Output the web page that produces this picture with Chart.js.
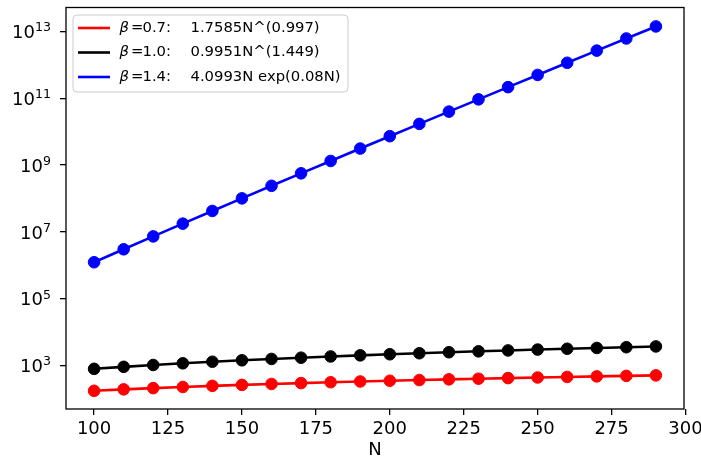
<!DOCTYPE html>
<html>
<head>
<meta charset="utf-8">
<script src="https://cdn.jsdelivr.net/npm/chart.js@4.4.0/dist/chart.umd.min.js"></script>
<style>
body { margin: 0; background: #fff; }
canvas { display: block; }
</style>
</head>
<body>
<canvas id="Chart" width="701" height="461"></canvas>
<script>
// values
const N = [100, 110, 120, 130, 140, 150, 160, 170, 180, 190, 200, 210, 220, 230, 240, 250, 260, 270, 280, 290];
const beta07 = [173, 191, 208, 225, 243, 260, 277, 294, 312, 329, 346, 363, 381, 398, 415, 432, 450, 467, 484, 501];
const beta10 = [787, 903, 1025, 1151, 1281, 1416, 1555, 1697, 1844, 1994, 2148, 2305, 2466, 2630, 2798, 2968, 3142, 3318, 3498, 3681];
const beta14 = [1.222e6, 2.99e6, 7.26e6, 1.75e7, 4.20e7, 1.00e8, 2.38e8, 5.62e8, 1.32e9, 3.11e9, 7.29e9, 1.70e10, 3.97e10, 9.24e10, 2.14e11, 4.97e11, 1.15e12, 2.66e12, 6.14e12, 1.41e13];
const betas = ['0.7', '1.0', '1.4'];
const fits = ['1.7585N^(0.997)', '0.9951N^(1.449)', '4.0993N exp(0.08N)'];
const xTicks = [100, 125, 150, 175, 200, 225, 250, 275, 300];
const yExps = [3, 5, 7, 9, 11, 13];

const ctx = document.getElementById('Chart').getContext('2d');
const FONT = '"DejaVu Sans", sans-serif';

function series(label, data, color) {
    return {
        label: label,
        data: data,
        borderColor: color,
        backgroundColor: color,
        borderWidth: 2.6,
        pointRadius: 5.8,
        pointBorderWidth: 1,
        pointBorderColor: color,
        pointBackgroundColor: color,
        tension: 0
    };
}

// frame, y labels with superscripts, legend box
const extras = {
    id: 'extras',
    afterDraw(chart) {
        const c = chart.ctx;
        const a = chart.chartArea;
        c.save();
        c.strokeStyle = '#000';
        c.lineWidth = 1.3;
        c.strokeRect(a.left, a.top, a.right - a.left, a.bottom - a.top);

        const ys = chart.scales.y;
        c.fillStyle = '#000';
        c.textBaseline = 'alphabetic';
        c.textAlign = 'right';
        yExps.forEach(e => {
            const y = ys.getPixelForValue(Math.pow(10, e));
            const sup = String(e);
            c.font = '12.6px ' + FONT;
            const sw = c.measureText(sup).width;
            c.fillText(sup, 51, y);
            c.font = '18px ' + FONT;
            c.fillText('10', 51 - sw, y + 6.8);
        });

        // legend
        const bx = 73, by = 15, bw = 275, bh = 77;
        c.beginPath();
        c.roundRect(bx, by, bw, bh, 4);
        c.fillStyle = 'rgba(255,255,255,0.8)';
        c.fill();
        c.strokeStyle = '#cccccc';
        c.lineWidth = 1;
        c.stroke();
        chart.data.datasets.forEach((ds, i) => {
            const y = 28 + i * 24.5;
            c.strokeStyle = ds.borderColor;
            c.lineWidth = 2.6;
            c.beginPath();
            c.moveTo(78, y);
            c.lineTo(110, y);
            c.stroke();
            c.fillStyle = '#000';
            c.textAlign = 'left';
            c.textBaseline = 'middle';
            c.font = 'italic 14.8px ' + FONT;
            c.fillText('β', 119.5, y);
            c.font = '14.8px ' + FONT;
            c.fillText('=', 131, y);
            c.fillText(betas[i] + ':', 142.5, y);
            c.fillText(fits[i], 190.5, y);
        });
        c.restore();
    }
};

const myChart = new Chart(ctx, {
    type: 'line',
    data: {
        labels: N,
        datasets: [
            series('β = 0.7', beta07, '#ff0000'),
            series('β = 1.0', beta10, '#000000'),
            series('β = 1.4', beta14, '#0000ff')
        ]
    },
    options: {
        responsive: false,
        animation: false,
        devicePixelRatio: 1,
        layout: { padding: { top: 7.5, right: 17, left: 0, bottom: 0 } },
        plugins: {
            legend: { display: false },
            tooltip: { enabled: false }
        },
        scales: {
            x: {
                type: 'linear',
                min: 90.5,
                max: 299.5,
                afterBuildTicks: (s) => { s.ticks = xTicks.map(v => ({ value: v })); },
                afterFit: (s) => { s.height = 52; s.paddingLeft = 0; s.paddingRight = 0; },
                grid: { display: true, drawOnChartArea: false, drawTicks: true, tickLength: 6, color: '#000', lineWidth: 1.3 },
                border: { display: false },
                ticks: { color: '#000', font: { family: FONT, size: 18 }, padding: 4, maxRotation: 0 },
                title: { display: true, text: 'N', color: '#000', font: { family: FONT, size: 18 }, padding: 0 }
            },
            y: {
                type: 'logarithmic',
                min: 49.3,
                max: 5.2e13,
                afterBuildTicks: (s) => { s.ticks = yExps.map(e => ({ value: Math.pow(10, e) })); },
                afterFit: (s) => { s.width = 66; s.paddingTop = 0; s.paddingBottom = 0; },
                grid: { display: true, drawOnChartArea: false, drawTicks: true, tickLength: 6, color: '#000', lineWidth: 1.3 },
                border: { display: false },
                ticks: { display: false }
            }
        }
    },
    plugins: [extras]
});
</script>
</body>
</html>
